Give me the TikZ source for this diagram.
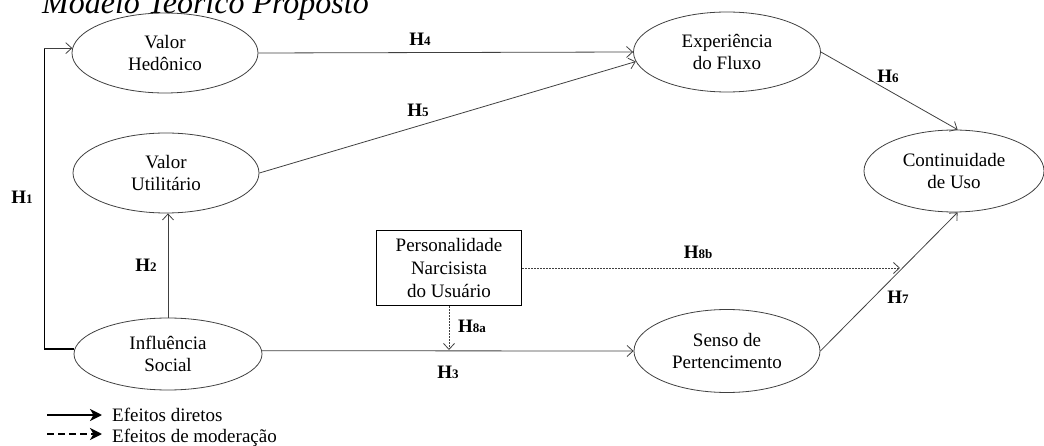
\documentclass[tikz,border=0pt]{standalone}
\usepackage{fontspec}
\setmainfont{Liberation Serif}
\usetikzlibrary{shapes.geometric,arrows.meta}
\newcommand\hlab[1]{\textbf{H}{\fontsize{13}{13}\selectfont\textbf{#1}}}
\begin{document}
\begin{tikzpicture}[x=1pt,y=-1pt,
  ell/.style={draw=black!75, line width=0.8pt, ellipse, minimum width=186pt, minimum height=80pt, inner sep=0pt, align=center, font=\fontsize{19}{22.5}\selectfont},
  conn/.style={draw=black!75, line width=0.8pt, -{Straight Barb[length=6pt,width=11pt]}},
  modconn/.style={conn, dash pattern=on 2pt off 1pt},
  hl/.style={font=\fontsize{19}{19}\selectfont, inner sep=0pt},
  legsolid/.style={line width=2pt, -{Stealth[length=12pt,width=12pt,inset=3.5pt]}},
  legdash/.style={legsolid, dash pattern=on 7pt off 4pt},
  legtext/.style={anchor=base west, inner sep=0pt, font=\fontsize{19}{20}\selectfont}]
\useasboundingbox (0,0) rectangle (1044,446);
% title (cut at top)
\node[anchor=base west, inner sep=0pt, font=\fontsize{32}{32}\selectfont\itshape] (title) at (42,14) {Modelo Teórico Proposto};
% constructs
\node[ell] (VH) at (165,53) {Valor\\Hedônico};
\node[ell] (VU) at (166,173) {Valor\\Utilitário};
\node[ell, minimum width=188pt, minimum height=72pt] (IS) at (168,354) {Influência\\Social};
\node[ell, minimum width=187pt] (EF) at (727,52) {Experiência\\do Fluxo};
\node[ell, minimum width=180pt, minimum height=82pt] (CU) at (954,171) {Continuidade\\de Uso};
\node[ell, minimum height=83pt] (SP) at (727,351) {Senso de\\Pertencimento};
\node[draw, line width=1.2pt, minimum width=145pt, minimum height=75pt, inner sep=0pt, align=center, font=\fontsize{19}{23}\selectfont] (PN) at (449,268) {Personalidade\\Narcisista\\do Usuário};
% connectors
\draw[line width=1.5pt] (IS.177.5) -- ++(-30,0) coordinate (h1corner) -- (h1corner |- VH.177) coordinate (h1top);
\draw[conn] (h1top) -- (VH.177);
\draw[conn] (IS.north) -- (IS.north |- VU.south);
\draw[conn] (IS.2.5) -- (SP.west);
\draw[conn] (VH.east) -- (EF.west);
\draw[conn] (VU.east) -- (EF.186);
\draw[conn] (EF.east) -- (CU.85);
\draw[conn] (SP.east) -- (CU.275);
\coordinate (h8bend) at (900,268);
\coordinate (h8aend) at (449,350);
\draw[modconn] (PN.east) -- (h8bend);
\draw[modconn] (PN.south) -- (h8aend);
% labels
\node[hl] (h1) at (22,197) {\hlab{1}};
\node[hl] (h2) at (146,265) {\hlab{2}};
\node[hl] (h3) at (448,372) {\hlab{3}};
\node[hl] (h4) at (420,39) {\hlab{4}};
\node[hl] (h5) at (418,110) {\hlab{5}};
\node[hl] (h6) at (888,76) {\hlab{6}};
\node[hl] (h7) at (898,297) {\hlab{7}};
\node[hl] (h8a) at (472,326) {\hlab{8a}};
\node[hl] (h8b) at (698,252) {\hlab{8b}};
% legend
\coordinate (ls1) at (47,415);
\coordinate (ls2) at (102,415);
\coordinate (ld1) at (47,434);
\coordinate (ld2) at (102,434);
\draw[legsolid] (ls1) -- (ls2);
\draw[legdash] (ld1) -- (ld2);
\node[legtext] (lt1) at (112,421) {Efeitos diretos};
\node[legtext] (lt2) at (112,442) {Efeitos de moderação};
\end{tikzpicture}
\end{document}
